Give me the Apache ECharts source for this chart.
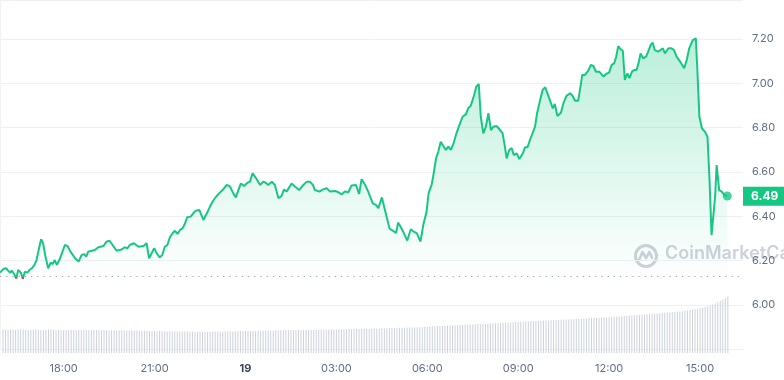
<!DOCTYPE html>
<html>
<head>
<meta charset="utf-8">
<script src="https://cdn.jsdelivr.net/npm/echarts@6/dist/echarts.min.js"></script>
<style>
html,body{margin:0;padding:0;background:#fff;}
#c{width:784px;height:380px;}
</style>
</head>
<body>
<div id="c"></div>
<script>
// Minutes after 16:00 (day 18) and price in USD
const priceMinutes = [0,7,12,16,20,23,28,32,36,41,45,49,54,58,63,68,72,77,81,85,89,95,100,104,108,112,117,122,128,133,139,148,155,161,166,170,174,181,187,194,204,210,216,222,230,240,246,251,256,
264,273,283,289,294,304,309,315,320,325,330,335,341,345,350,355,360,365,369,376,381,386,393,401,408,414,419,426,432,439,447,453,460,465,470,475,481,488,493,498,505,513,
519,524,529,536,542,549,555,560,565,575,582,590,598,605,611,617,621,630,637,644,651,661,667,674,680,687,693,702,708,713,720,726,735,741,746,753,759,768,772,775,781,785,
789,795,803,810,816,822,829,835,841,845,851,854,860,864,869,874,879,884,889,894,899,906,912,919,923,928,935,939,944,948,953,958,963,968,973,979,986,991,995,999,1004,1009,1013,1019,1024,1031,1035,1040,1045,
1055,1059,1065,1070,1075,1078,1083,1090,1094,1099,1106,1111,1117,1124,1129,1134,1140,1144,1148,1153,1160,1165,1170,1175,1182,1184,1190,1195,1201,1206,1211,1215,1219,1224,1228,1232,1237,1241,1246,1250,1255,1259,1263,1268,1274,1278,1283,1287,1291,1298,
1301,1307,1311,1318,1324,1329,1334,1341,1349,1354,1359,1366,1372,1375,1379,1384,1390,1395,1399,1403,1410,1413,1418,1423,1428,1434];
const priceValues = [6.145,6.162,6.165,6.154,6.144,6.154,6.139,6.119,6.157,6.145,6.118,6.149,6.145,6.157,6.165,6.180,6.202,6.255,6.296,6.278,6.225,6.165,6.190,6.184,6.202,6.180,6.202,6.232,6.270,6.265,6.240,6.210,6.195,6.225,6.229,6.217,6.240,6.244,6.247,6.260,6.265,6.285,6.289,6.270,6.244,6.250,6.260,6.255,6.270,
6.278,6.262,6.265,6.278,6.210,6.255,6.232,6.214,6.225,6.262,6.270,6.305,6.325,6.334,6.320,6.338,6.345,6.368,6.395,6.398,6.413,6.425,6.428,6.383,6.413,6.443,6.465,6.488,6.503,6.518,6.541,6.536,6.503,6.485,6.518,6.548,6.536,6.551,6.556,6.594,6.571,6.541,
6.556,6.551,6.541,6.556,6.541,6.481,6.491,6.521,6.511,6.548,6.533,6.518,6.541,6.556,6.556,6.541,6.518,6.511,6.521,6.526,6.511,6.514,6.508,6.499,6.511,6.508,6.539,6.541,6.500,6.567,6.541,6.511,6.458,6.451,6.436,6.485,6.428,6.345,6.338,6.345,6.325,6.371,
6.356,6.330,6.290,6.341,6.330,6.322,6.285,6.365,6.419,6.503,6.541,6.578,6.663,6.690,6.736,6.717,6.699,6.714,6.699,6.726,6.767,6.812,6.849,6.861,6.887,6.897,6.947,6.985,6.997,6.849,6.774,6.804,6.865,6.789,6.804,6.807,6.789,6.774,6.721,6.661,6.699,6.707,6.676,6.684,6.658,6.684,6.711,6.711,6.744,
6.804,6.865,6.925,6.970,6.982,6.973,6.932,6.887,6.907,6.852,6.867,6.910,6.943,6.955,6.943,6.921,6.921,6.977,7.037,7.037,7.057,7.083,7.078,7.052,7.052,7.060,7.030,7.042,7.048,7.083,7.090,7.120,7.168,7.153,7.147,7.015,7.045,7.023,7.052,7.060,7.060,7.090,7.135,7.113,7.120,7.143,7.173,7.183,7.150,7.143,
7.135,7.158,7.135,7.158,7.158,7.150,7.120,7.098,7.068,7.105,7.158,7.195,7.203,7.060,6.849,6.797,6.781,6.759,6.563,6.315,6.488,6.631,6.518,6.511,6.496,6.491];
// 5-minute volume bars starting 16:00 (arbitrary units, millions)
const volumeValues = [
23.4,23.1,23.3,23.5,23.2,23.0,23.3,23.6,23.4,23.2,23.1,23.3,23.5,23.4,23.2,23.0,23.1,23.3,23.2,23.4,23.3,23.1,23.0,23.2,
23.1,23.0,22.9,23.2,23.1,22.8,22.9,23.0,23.1,22.9,22.8,22.7,22.9,23.0,22.8,22.7,22.9,22.8,22.6,22.7,22.8,22.6,22.5,22.7,
22.6,22.5,22.4,22.6,22.3,22.4,22.2,22.3,22.1,22.2,22.0,21.9,22.1,21.8,21.9,21.7,21.8,21.6,21.7,21.5,21.6,21.4,21.5,21.6,
21.4,21.5,21.3,21.4,21.2,21.3,21.4,21.2,21.3,21.1,21.2,21.3,21.4,21.5,21.3,21.4,21.6,21.5,21.7,21.6,21.8,21.7,21.9,22.0,
22.1,22.0,22.2,22.3,22.1,22.2,22.4,22.3,22.5,22.4,22.6,22.5,22.7,22.6,22.8,22.7,22.9,22.8,22.7,22.9,23.0,22.9,23.1,23.0,
23.1,23.0,23.2,23.1,23.3,23.2,23.4,23.3,23.2,23.4,23.5,23.4,23.6,23.5,23.7,23.6,23.8,23.9,23.8,24.0,23.9,24.1,24.0,24.2,
24.3,24.2,24.4,24.5,24.4,24.6,24.7,24.6,24.8,24.9,25.0,24.9,25.1,25.2,25.3,25.2,25.4,25.5,25.6,25.5,25.7,25.8,26.0,26.1,
26.3,26.4,26.6,26.8,26.9,27.1,27.0,27.2,27.4,27.5,27.7,27.8,27.9,28.1,28.0,28.2,28.4,28.5,28.6,28.8,28.9,29.0,29.2,29.3,
29.4,29.6,29.7,29.8,30.0,30.1,30.2,30.4,30.5,30.6,30.8,30.9,31.0,31.2,31.3,31.4,31.5,31.7,31.8,31.9,32.1,32.2,32.3,32.4,
32.6,32.7,32.8,33.0,33.1,33.2,33.4,33.5,33.6,33.8,33.9,34.0,34.2,34.3,34.5,34.6,34.7,34.9,35.0,35.1,35.3,35.4,35.5,35.6,
35.8,36.0,36.2,36.4,36.6,36.8,37.0,37.2,37.4,37.6,37.8,38.0,38.2,38.4,38.6,38.8,39.0,39.2,39.4,39.6,39.8,40.0,40.2,40.4,
40.6,40.8,41.0,41.2,41.5,41.8,42.2,42.6,43.0,43.4,43.8,44.3,44.8,45.3,46.0,46.8,47.6,48.5,49.6,50.8,52.2,53.6,55.0,56.2];
const timeTickLabels = ['18:00','21:00','19','03:00','06:00','09:00','12:00','15:00'];
const priceTickLabels = ['6.00','6.20','6.40','6.60','6.80','7.00','7.20'];
const openPrice = 6.127;

const GREEN = '#16c784', RED = '#ea3943';
const priceData = priceMinutes.map((m, i) => [m, priceValues[i]]);
const volumeData = volumeValues.map((v, i) => [i * 5, v]);
const lastIdx = priceValues.length - 1;
const lastPoint = [priceMinutes[lastIdx], priceValues[lastIdx]];

const chart = echarts.init(document.getElementById('c'), null, {renderer: 'canvas'});
const font = 'Inter, "Noto Sans", sans-serif';
const option = {
  animation: false,
  backgroundColor: '#ffffff',
  textStyle: {fontFamily: font},
  graphic: [
    {type: 'group', left: 633, top: 243, z: -10, silent: true, children: [
      {type: 'circle', shape: {cx: 12, cy: 12, r: 10.5}, style: {fill: 'none', stroke: '#cdd1d8', lineWidth: 3}},
      {type: 'polyline', shape: {points: [[5,16],[8.5,8],[12,14],[15.5,8],[18,14]]}, style: {fill: 'none', stroke: '#cdd1d8', lineWidth: 2.6, lineJoin: 'round', lineCap: 'round'}}
    ]},
    {type: 'text', left: 665, top: 245, z: -10, silent: true,
      style: {text: 'CoinMarketCap', fill: '#cdd1d8', font: '600 18px Inter, sans-serif'}}
  ],
  grid: [
    {left: 0, right: 41, top: 0, height: 349.1},
    {left: 0, right: 41, top: 290, height: 63}
  ],
  xAxis: [
    {gridIndex: 0, type: 'value', min: 0, max: 1465, show: false},
    {gridIndex: 1, type: 'value', min: 0, max: 1465, interval: 60,
      axisLine: {show: false}, axisTick: {show: false}, splitLine: {show: false},
      axisLabel: {
        margin: 10, fontSize: 11, color: '#616e85', fontFamily: font,
        showMinLabel: true, showMaxLabel: false,
        formatter: function (v) {
          if (v < 120 || (v - 120) % 180 !== 0) return '';
          const k = (v - 120) / 180;
          const t = timeTickLabels[k];
          if (t === undefined) return '';
          return t.indexOf(':') < 0 ? '{b|' + t + '}' : t;
        },
        rich: {b: {fontWeight: 'bold', color: '#3d4454', fontSize: 11, fontFamily: font}}
      }}
  ],
  yAxis: [
    {gridIndex: 0, type: 'value', position: 'right', min: 5.8, max: 7.376, interval: 0.2,
      axisLine: {show: true, lineStyle: {color: '#f1f3f6'}}, axisTick: {show: false},
      splitLine: {lineStyle: {color: '#eef1f4', width: 1}},
      axisLabel: {
        margin: 9, fontSize: 11, color: '#616e85', fontFamily: font,
        showMaxLabel: false,
        formatter: function (v) {
          const s = (Math.round(v * 100) / 100).toFixed(2);
          return priceTickLabels.indexOf(s) >= 0 ? s : '';
        }
      }},
    {gridIndex: 1, type: 'value', min: 0, max: 63, show: false}
  ],
  series: [
    {
      type: 'line', xAxisIndex: 0, yAxisIndex: 0, data: priceData,
      showSymbol: false, symbol: 'none', z: 5,
      lineStyle: {width: 2, color: GREEN},
      areaStyle: {
        origin: openPrice,
        color: new echarts.graphic.LinearGradient(0, 0, 0, 1, [
          {offset: 0, color: 'rgba(22,199,132,0.42)'},
          {offset: 1, color: 'rgba(22,199,132,0.0)'}
        ])
      },
      markLine: {
        silent: true, symbol: ['none', 'none'], animation: false,
        data: [
          {yAxis: openPrice, lineStyle: {color: '#9aa2b1', type: [1.2, 5], width: 1.2}, label: {show: false}},
          {yAxis: priceValues[lastIdx], lineStyle: {color: 'rgba(0,0,0,0)', width: 0.01},
            label: {show: true, position: 'end', distance: 0,
              formatter: priceValues[lastIdx].toFixed(2),
              backgroundColor: GREEN, color: '#ffffff', fontWeight: 'bold', fontSize: 12,
              fontFamily: font, padding: [3, 10, 3, 8], lineHeight: 13}}
        ]
      }
    },
    {
      type: 'scatter', xAxisIndex: 0, yAxisIndex: 0, data: [lastPoint],
      symbol: 'circle', symbolSize: 9, itemStyle: {color: GREEN}, z: 6, silent: true
    },
    {
      type: 'bar', xAxisIndex: 1, yAxisIndex: 1, data: volumeData,
      barWidth: 1, itemStyle: {color: '#cdd2db'}, silent: true
    }
  ]
};
chart.setOption(option);
// colour the line red below the opening price, using the axis scale
const baseY = chart.convertToPixel({gridIndex: 0}, [0, openPrice])[1];
const H = 380;
const off = Math.min(Math.max(baseY / H, 0), 1);
chart.setOption({series: [{
  lineStyle: {color: new echarts.graphic.LinearGradient(0, 0, 0, H, [
    {offset: 0, color: GREEN}, {offset: off, color: GREEN},
    {offset: off, color: RED}, {offset: 1, color: RED}
  ], true)}
}]});
</script>
</body>
</html>
